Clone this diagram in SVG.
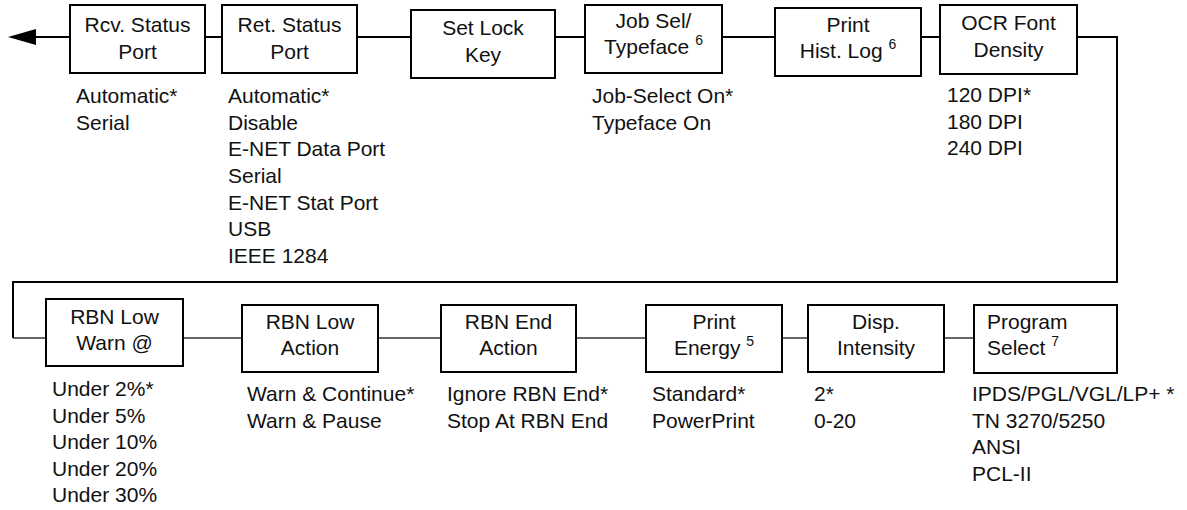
<svg xmlns="http://www.w3.org/2000/svg" width="1187" height="510" viewBox="0 0 1187 510">
<style>
.box{fill:#fff;stroke:#000;stroke-width:2}
.t{font-family:"Liberation Sans",Arial,sans-serif;font-size:21px;fill:#111}
.c{text-anchor:middle}
.sup{font-size:14px}
.thick{fill:none;stroke:#000;stroke-width:2}
.thin{fill:none;stroke:#333;stroke-width:1.3}
</style>
<rect width="1187" height="510" fill="#fff"/>
<g id="connectors">
<path class="thick" d="M70,37 H30"/>
<polygon points="8,37 36,29 36,45" fill="#000"/>
<path class="thick" d="M205,37 H222 M357,37 H411 M555,37 H585 M722,37 H775 M921,37 H940"/>
<path class="thick" d="M1077,37 H1117 V282 H13 V338"/>
<path class="thin" d="M13,338 H46 M183,338 H242 M378,338 H441 M576,338 H646 M782,338 H808 M944,338 H974"/>
</g>
<g id="rcv">
<rect class="box" x="70" y="5" width="135" height="68"/>
<text class="t c" x="137.5" y="32">Rcv. Status</text>
<text class="t c" x="137.5" y="59">Port</text>
<text class="t" x="76" y="103">Automatic*</text>
<text class="t" x="76" y="129.7">Serial</text>
</g>
<g id="ret">
<rect class="box" x="222" y="5" width="135" height="68"/>
<text class="t c" x="289.5" y="32">Ret. Status</text>
<text class="t c" x="289.5" y="59">Port</text>
<text class="t" x="228" y="103">Automatic*</text>
<text class="t" x="228" y="129.7">Disable</text>
<text class="t" x="228" y="156.3">E-NET Data Port</text>
<text class="t" x="228" y="183">Serial</text>
<text class="t" x="228" y="209.7">E-NET Stat Port</text>
<text class="t" x="228" y="236.3">USB</text>
<text class="t" x="228" y="263">IEEE 1284</text>
</g>
<g id="setlock">
<rect class="box" x="411" y="10" width="144" height="68"/>
<text class="t c" x="483" y="35">Set Lock</text>
<text class="t c" x="483" y="62">Key</text>
</g>
<g id="jobsel">
<rect class="box" x="585" y="5" width="137" height="68"/>
<text class="t c" x="653.5" y="28">Job Sel/</text>
<text class="t c" x="653.5" y="54">Typeface <tspan class="sup" dy="-9">6</tspan></text>
<text class="t" x="592" y="103">Job-Select On*</text>
<text class="t" x="592" y="129.7">Typeface On</text>
</g>
<g id="printhist">
<rect class="box" x="775" y="8" width="146" height="68"/>
<text class="t c" x="848" y="32">Print</text>
<text class="t c" x="848" y="58">Hist. Log <tspan class="sup" dy="-9">6</tspan></text>
</g>
<g id="ocr">
<rect class="box" x="940" y="5" width="137" height="69"/>
<text class="t c" x="1008.5" y="30">OCR Font</text>
<text class="t c" x="1008.5" y="57">Density</text>
<text class="t" x="947" y="102">120 DPI*</text>
<text class="t" x="947" y="128.7">180 DPI</text>
<text class="t" x="947" y="155.3">240 DPI</text>
</g>
<g id="rbnlowwarn">
<rect class="box" x="46" y="299" width="137" height="67"/>
<text class="t c" x="114.5" y="324">RBN Low</text>
<text class="t c" x="114.5" y="350">Warn @</text>
<text class="t" x="52" y="396">Under 2%*</text>
<text class="t" x="52" y="422.5">Under 5%</text>
<text class="t" x="52" y="449">Under 10%</text>
<text class="t" x="52" y="475.5">Under 20%</text>
<text class="t" x="52" y="502">Under 30%</text>
</g>
<g id="rbnlowaction">
<rect class="box" x="242" y="305" width="136" height="67"/>
<text class="t c" x="310" y="329">RBN Low</text>
<text class="t c" x="310" y="355">Action</text>
<text class="t" x="247" y="401">Warn &amp; Continue*</text>
<text class="t" x="247" y="427.5">Warn &amp; Pause</text>
</g>
<g id="rbnendaction">
<rect class="box" x="441" y="305" width="135" height="67"/>
<text class="t c" x="508.5" y="329">RBN End</text>
<text class="t c" x="508.5" y="355">Action</text>
<text class="t" x="447" y="401">Ignore RBN End*</text>
<text class="t" x="447" y="427.5">Stop At RBN End</text>
</g>
<g id="printenergy">
<rect class="box" x="646" y="305" width="136" height="67"/>
<text class="t c" x="714" y="329">Print</text>
<text class="t c" x="714" y="355">Energy <tspan class="sup" dy="-9">5</tspan></text>
<text class="t" x="652" y="401">Standard*</text>
<text class="t" x="652" y="427.5">PowerPrint</text>
</g>
<g id="dispintensity">
<rect class="box" x="808" y="305" width="136" height="67"/>
<text class="t c" x="876" y="329">Disp.</text>
<text class="t c" x="876" y="355">Intensity</text>
<text class="t" x="814" y="401">2*</text>
<text class="t" x="814" y="427.5">0-20</text>
</g>
<g id="programselect">
<rect class="box" x="974" y="305" width="143" height="68"/>
<text class="t" x="987" y="329">Program</text>
<text class="t" x="987" y="355">Select <tspan class="sup" dy="-9">7</tspan></text>
<text class="t" x="972" y="401">IPDS/PGL/VGL/LP+ *</text>
<text class="t" x="972" y="427.5">TN 3270/5250</text>
<text class="t" x="972" y="454">ANSI</text>
<text class="t" x="972" y="480.5">PCL-II</text>
</g>
</svg>
